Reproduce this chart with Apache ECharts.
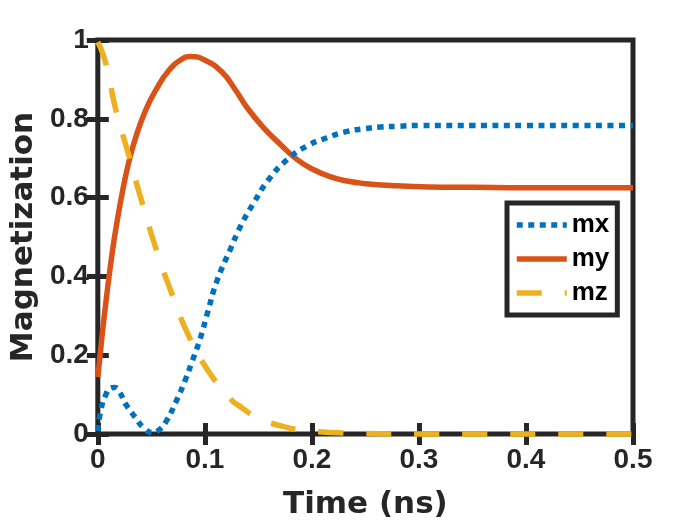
<!DOCTYPE html>
<html>
<head>
<meta charset="utf-8">
<script src="https://cdn.jsdelivr.net/npm/echarts@6/dist/echarts.min.js"></script>
<style>html,body{margin:0;padding:0;background:#fff}#c{width:700px;height:525px}</style>
</head>
<body>
<div id="c"></div>
<script>
var xTicks = [0, 0.1, 0.2, 0.3, 0.4, 0.5];
var yTicks = [0, 0.2, 0.4, 0.6, 0.8, 1];

var mxT = [0, 0.003, 0.0075, 0.0115, 0.0155, 0.02, 0.026, 0.035, 0.043, 0.051, 0.057, 0.0634, 0.0727, 0.082, 0.0882, 0.096, 0.1022, 0.1115, 0.124, 0.1333, 0.1457, 0.1597, 0.1768, 0.1954, 0.214, 0.233, 0.25, 0.264, 0.28, 0.3, 0.35, 0.4, 0.45, 0.5];
var mxV = [0.008, 0.063, 0.100, 0.116, 0.118, 0.108, 0.076, 0.042, 0.015, 0.004, 0.010, 0.030, 0.080, 0.139, 0.185, 0.245, 0.305, 0.390, 0.470, 0.527, 0.587, 0.646, 0.696, 0.731, 0.752, 0.768, 0.775, 0.779, 0.781, 0.783, 0.783, 0.783, 0.783, 0.783];

var myT = [0, 0.004, 0.008, 0.0105, 0.0137, 0.0168, 0.023, 0.0292, 0.0354, 0.0447, 0.054, 0.0665, 0.079, 0.0867, 0.1007, 0.1162, 0.1286, 0.1395, 0.155, 0.1706, 0.186, 0.2, 0.217, 0.233, 0.248, 0.279, 0.31, 0.35, 0.4, 0.45, 0.5];
var myV = [0.144, 0.250, 0.345, 0.400, 0.465, 0.520, 0.615, 0.693, 0.753, 0.822, 0.872, 0.923, 0.952, 0.958, 0.948, 0.918, 0.873, 0.828, 0.777, 0.735, 0.697, 0.673, 0.653, 0.642, 0.636, 0.630, 0.627, 0.626, 0.625, 0.625, 0.625];

var mzT = [0, 0.005, 0.01, 0.0168, 0.0292, 0.04, 0.0556, 0.07, 0.0836, 0.102, 0.124, 0.1317, 0.15, 0.1706, 0.19, 0.217, 0.25, 0.3, 0.35, 0.4, 0.45, 0.5];
var mzV = [0.995, 0.963, 0.910, 0.823, 0.705, 0.600, 0.460, 0.350, 0.257, 0.165, 0.089, 0.072, 0.040, 0.021, 0.010, 0.004, 0.001, 0, 0, 0, 0, 0];

function pairs(t, v) { return t.map(function (x, i) { return [x, v[i]]; }); }

var axisColor = '#262626';
var chart = echarts.init(document.getElementById('c'));
var tickFont = { fontFamily: 'Liberation Sans', fontWeight: 'bold', fontSize: 28, color: axisColor };

chart.setOption({
  animation: false,
  backgroundColor: '#fff',
  grid: { left: 97, right: 67, top: 40, bottom: 90, show: true, borderColor: axisColor, borderWidth: 5, backgroundColor: 'transparent' },
  legend: {
    orient: 'vertical', left: 507, top: 203,
    backgroundColor: '#fff', borderColor: axisColor, borderWidth: 5,
    padding: [9, 8, 9, 7], itemGap: 8, itemWidth: 50, itemHeight: 16,
    itemStyle: { opacity: 0 },
    lineStyle: { width: 5.5 },
    textStyle: { fontFamily: 'Liberation Sans', fontWeight: 'bold', fontSize: 26, color: '#000' },
    data: ['mx', 'my', 'mz']
  },
  xAxis: [{
    type: 'value', min: 0, max: 0.5, interval: 0.1,
    name: 'Time (ns)', nameLocation: 'middle', nameGap: 55,
    nameTextStyle: { fontFamily: 'DejaVu Sans', fontWeight: 'bold', fontSize: 31, color: axisColor },
    axisLine: { show: false },
    axisTick: { inside: true, length: 11, lineStyle: { color: axisColor, width: 5 } },
    axisLabel: Object.assign({ margin: 12 }, tickFont),
    splitLine: { show: false }
  }, {
    type: 'value', min: 0, max: 0.5, interval: 0.1, position: 'top',
    axisLine: { show: false },
    axisTick: { inside: true, length: 11, lineStyle: { color: axisColor, width: 5 } },
    axisLabel: { show: false }, splitLine: { show: false }
  }],
  yAxis: [{
    type: 'value', min: 0, max: 1, interval: 0.2,
    name: 'Magnetization', nameLocation: 'middle', nameGap: 57,
    nameTextStyle: { fontFamily: 'DejaVu Sans', fontWeight: 'bold', fontSize: 31, color: axisColor },
    axisLine: { show: false },
    axisTick: { inside: true, length: 11, lineStyle: { color: axisColor, width: 5 } },
    axisLabel: Object.assign({ margin: 9 }, tickFont),
    splitLine: { show: false }
  }, {
    type: 'value', min: 0, max: 1, interval: 0.2, position: 'right',
    axisLine: { show: false },
    axisTick: { inside: true, length: 11, lineStyle: { color: axisColor, width: 5 } },
    axisLabel: { show: false }, splitLine: { show: false }
  }],
  series: [{
    name: 'mx', type: 'line', data: pairs(mxT, mxV), smooth: 0.5, showSymbol: false, symbol: 'none', clip: false,
    itemStyle: { color: '#0072BD' },
    lineStyle: { color: '#0072BD', width: 5.5, type: [6, 5.5], cap: 'butt' }, z: 3
  }, {
    name: 'my', type: 'line', data: pairs(myT, myV), smooth: 0.5, showSymbol: false, symbol: 'none', clip: false,
    itemStyle: { color: '#D95319' },
    lineStyle: { color: '#D95319', width: 5.5, cap: 'butt' }, z: 2
  }, {
    name: 'mz', type: 'line', data: pairs(mzT, mzV), smooth: 0.5, showSymbol: false, symbol: 'none', clip: false,
    itemStyle: { color: '#EDB120' },
    lineStyle: { color: '#EDB120', width: 5.5, type: [25, 23], cap: 'butt' }, z: 4
  }]
});
</script>
</body>
</html>
